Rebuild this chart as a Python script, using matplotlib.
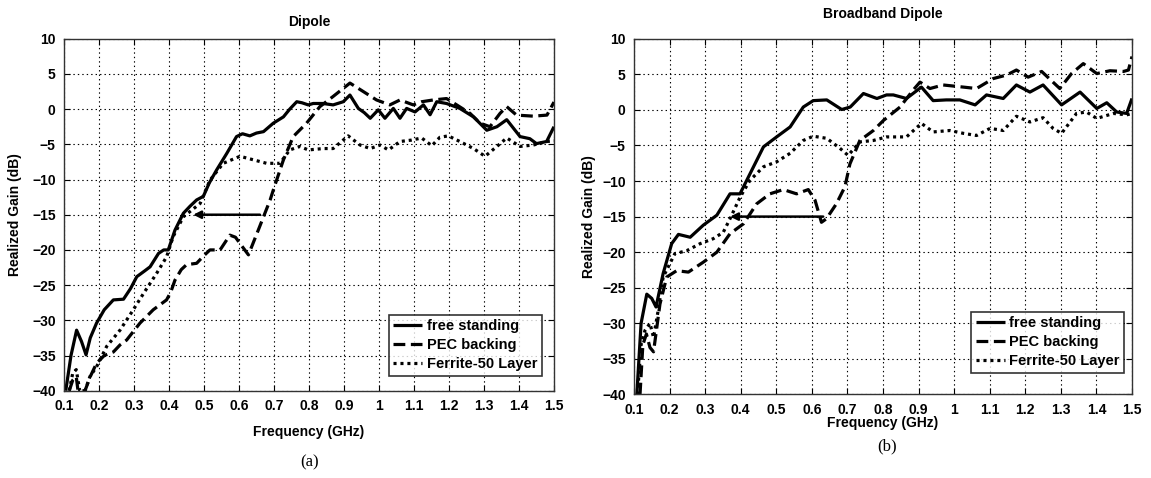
import numpy as np
import matplotlib
matplotlib.use("Agg")
import matplotlib.pyplot as plt

plt.rcParams['font.family'] = ['Liberation Sans', 'DejaVu Sans']
plt.rcParams['font.weight'] = 'bold'
plt.rcParams['lines.scale_dashes'] = False

# (a) Dipole  -- frequency (GHz), realized gain (dB)
fs_a = [(0.105, -40), (0.12, -35), (0.136, -31.4), (0.15, -33), (0.163, -34.9), (0.175, -32.5),
        (0.193, -30.4), (0.215, -28.5), (0.241, -27.1), (0.27, -27.0), (0.29, -25.5), (0.308, -23.8),
        (0.33, -23), (0.346, -22.4), (0.37, -20.5), (0.385, -20), (0.398, -20.0), (0.417, -17.2),
        (0.441, -14.8), (0.46, -13.8), (0.479, -12.9), (0.498, -12.4), (0.515, -10.5), (0.536, -8.65),
        (0.565, -6.3), (0.593, -3.9), (0.61, -3.5), (0.631, -3.8), (0.65, -3.4), (0.67, -3.2),
        (0.698, -2.0), (0.727, -1.1), (0.745, 0), (0.765, 1.05), (0.78, 0.9), (0.798, 0.6),
        (0.812, 0.8), (0.84, 0.8), (0.869, 0.6), (0.898, 1.05), (0.917, 2.0), (0.941, 0.1),
        (0.958, -0.5), (0.975, -1.3), (0.998, -0.1), (1.017, -1.3), (1.041, 0.1), (1.06, -1.3),
        (1.079, 0.1), (1.103, -0.4), (1.127, 0.6), (1.146, -0.8), (1.165, 1.05), (1.193, 0.8),
        (1.231, 0.1), (1.27, -1.1), (1.308, -3.0), (1.337, -2.5), (1.365, -1.5), (1.403, -3.9),
        (1.431, -4.2), (1.45, -4.9), (1.479, -4.6), (1.5, -2.5)]
pec_a = [(0.115, -40), (0.125, -38.5), (0.135, -38), (0.14, -40), (0.16, -40), (0.175, -38),
         (0.193, -36.1), (0.215, -35), (0.241, -34.5), (0.26, -33.5), (0.279, -32.8), (0.317, -30.4),
         (0.355, -28.5), (0.393, -27.1), (0.405, -26), (0.417, -24.3), (0.435, -22.8), (0.45, -22.1),
         (0.479, -21.9), (0.5, -20.8), (0.517, -20.0), (0.546, -20.0), (0.574, -17.9), (0.59, -18.2),
         (0.603, -19.1), (0.627, -20.7), (0.655, -17.2), (0.689, -12.9), (0.698, -11.5), (0.727, -7.2),
         (0.755, -3.9), (0.793, -2.0), (0.831, 0.35), (0.869, 1.8), (0.917, 3.7), (0.955, 2.5),
         (0.993, 1.3), (1.031, 0.6), (1.06, 1.3), (1.098, 0.6), (1.122, 1.05), (1.155, 1.3),
         (1.193, 1.5), (1.222, 0.6), (1.26, -0.6), (1.289, -2.0), (1.317, -2.5), (1.346, -0.6),
         (1.365, 0.35), (1.393, -0.85), (1.441, -1.0), (1.48, -0.85), (1.5, 1.0)]
fer_a = [(0.115, -40), (0.125, -37.5), (0.135, -37), (0.145, -40), (0.16, -40), (0.174, -38),
         (0.193, -36.6), (0.222, -33.7), (0.26, -31.4), (0.298, -28.5), (0.327, -26.2), (0.365, -23.3),
         (0.393, -21.0), (0.412, -18.1), (0.441, -15.3), (0.489, -13.4), (0.517, -10.1), (0.555, -7.7),
         (0.603, -6.7), (0.641, -7.2), (0.679, -7.7), (0.717, -7.7), (0.745, -5.8), (0.774, -5.3),
         (0.798, -5.8), (0.841, -5.6), (0.869, -5.6), (0.912, -3.8), (0.946, -5.1), (0.975, -5.6),
         (1.003, -5.1), (1.027, -5.8), (1.06, -4.6), (1.093, -4.4), (1.122, -4.1), (1.151, -5.2),
         (1.174, -4.0), (1.198, -3.8), (1.231, -4.6), (1.27, -5.6), (1.303, -6.7), (1.337, -5.3),
         (1.365, -4.1), (1.403, -5.3), (1.441, -5.1), (1.48, -4.6), (1.5, -4.5)]

# (b) Broadband Dipole
fs_b = [(0.108, -40), (0.12, -30), (0.136, -25.9), (0.15, -26.5), (0.162, -27.7), (0.182, -23.0),
        (0.206, -18.8), (0.225, -17.5), (0.258, -17.9), (0.295, -16.2), (0.333, -14.8), (0.37, -11.8),
        (0.398, -11.8), (0.426, -9.0), (0.464, -5.2), (0.501, -3.8), (0.539, -2.4), (0.576, 0.4),
        (0.604, 1.3), (0.642, 1.4), (0.684, 0.05), (0.708, 0.4), (0.745, 2.3), (0.783, 1.6),
        (0.81, 2.1), (0.829, 2.1), (0.866, 1.6), (0.908, 3.2), (0.941, 1.3), (0.978, 1.4),
        (1.016, 1.4), (1.059, 0.7), (1.091, 2.1), (1.138, 1.6), (1.175, 3.5), (1.213, 2.5),
        (1.25, 3.5), (1.302, 0.7), (1.354, 2.5), (1.401, 0.2), (1.429, 1.0), (1.457, -0.3),
        (1.485, -0.5), (1.5, 1.6)]
pec_b = [(0.117, -40), (0.125, -33), (0.135, -31.5), (0.145, -33.4), (0.155, -34), (0.173, -27.3),
         (0.192, -23.5), (0.22, -22.6), (0.253, -22.8), (0.295, -21.4), (0.333, -20.0), (0.37, -17.4),
         (0.408, -16.0), (0.445, -13.2), (0.482, -11.8), (0.52, -11.2), (0.557, -11.8), (0.59, -11.2),
         (0.609, -12.7), (0.627, -15.8), (0.641, -15.3), (0.669, -13.2), (0.693, -10.8), (0.707, -7.6),
         (0.735, -4.3), (0.773, -2.9), (0.801, -1.5), (0.848, 0.4), (0.885, 2.8), (0.904, 3.9),
         (0.932, 3.0), (0.969, 3.5), (1.026, 3.2), (1.063, 3.0), (1.11, 4.4), (1.148, 4.9),
         (1.175, 5.6), (1.208, 4.6), (1.246, 5.4), (1.297, 3.0), (1.33, 5.1), (1.363, 6.5),
         (1.401, 5.1), (1.438, 5.5), (1.476, 5.4), (1.49, 5.6), (1.5, 7.5)]
fer_b = [(0.11, -40), (0.12, -33), (0.131, -31.0), (0.145, -30), (0.155, -32), (0.168, -28.2),
         (0.182, -23.5), (0.215, -20.2), (0.248, -19.8), (0.286, -18.8), (0.323, -18.1), (0.351, -17.2),
         (0.37, -15.3), (0.398, -12.3), (0.426, -9.9), (0.464, -8.0), (0.501, -7.3), (0.539, -6.1),
         (0.576, -4.3), (0.604, -3.7), (0.642, -4.0), (0.679, -5.4), (0.702, -6.4), (0.735, -4.5),
         (0.773, -4.3), (0.81, -3.8), (0.829, -3.8), (0.866, -3.8), (0.908, -1.9), (0.941, -3.1),
         (0.988, -2.9), (1.026, -3.3), (1.063, -3.6), (1.101, -2.6), (1.138, -2.9), (1.175, -0.9),
         (1.213, -1.7), (1.25, -1.1), (1.278, -2.6), (1.302, -3.3), (1.344, -0.5), (1.372, -0.3),
         (1.401, -1.2), (1.448, -0.5), (1.485, -0.7), (1.5, -0.5)]

# arrows (start freq, end freq, level)
arrow_a = (0.66, 0.469, -15)
arrow_b = (0.632, 0.37, -15)

labels = ['free standing', 'PEC backing', 'Ferrite-50 Layer']
xticks = [0.1, 0.2, 0.3, 0.4, 0.5, 0.6, 0.7, 0.8, 0.9, 1.0, 1.1, 1.2, 1.3, 1.4, 1.5]
xticklabels = ['0.1', '0.2', '0.3', '0.4', '0.5', '0.6', '0.7', '0.8', '0.9', '1',
               '1.1', '1.2', '1.3', '1.4', '1.5']
yticks = [-40, -35, -30, -25, -20, -15, -10, -5, 0, 5, 10]

fig = plt.figure(figsize=(11.51, 4.78), dpi=100)
ax1 = fig.add_axes([0.0556, 0.1826, 0.4257, 0.7364])
ax2 = fig.add_axes([0.5508, 0.1747, 0.4327, 0.7443])


def draw(ax, series, arrow, title, tpad, xlab_y, ylab_x, leg_anchor):
    styles = [dict(ls='-'), dict(ls=(0, (8.5, 4))), dict(ls=(0, (2.2, 2.8)))]
    for s, st, lab in zip(series, styles, labels):
        d = np.array(s)
        ax.plot(d[:, 0], d[:, 1], color='k', lw=2.3, label=lab,
                solid_capstyle='butt', dash_capstyle='butt', **st)
    ax.annotate('', xy=(arrow[1], arrow[2]), xytext=(arrow[0], arrow[2]),
                arrowprops=dict(arrowstyle='-|>', color='k', lw=1.8, mutation_scale=11,
                                shrinkA=0, shrinkB=0))
    ax.set_xlim(0.1, 1.5)
    ax.set_ylim(-40, 10)
    ax.set_xticks(xticks)
    ax.set_xticklabels(xticklabels)
    ax.set_yticks(yticks)
    ax.grid(True, color='k', ls=(0, (1, 2.2)), lw=0.8)
    ax.tick_params(direction='in', length=4, width=0.8, top=True, right=True,
                   labelsize=10, pad=6)
    for sp in ax.spines.values():
        sp.set_color('#333333')
        sp.set_linewidth(1.0)
    ax.set_title(title, fontsize=10, fontweight='bold', pad=tpad)
    ax.set_xlabel('Frequency (GHz)', fontsize=10, fontweight='bold')
    ax.set_ylabel('Realized Gain (dB)', fontsize=10, fontweight='bold')
    ax.xaxis.set_label_coords(0.5, xlab_y)
    ax.yaxis.set_label_coords(ylab_x, 0.5)
    leg = ax.legend(loc='lower right', bbox_to_anchor=leg_anchor, borderaxespad=0,
                    fontsize=10.5, frameon=True, fancybox=False, handlelength=2.0,
                    handletextpad=0.3, labelspacing=0.35, borderpad=0.3)
    leg.get_frame().set_edgecolor('k')
    leg.get_frame().set_linewidth(1.2)
    for t in leg.get_texts():
        t.set_fontweight('bold')


draw(ax1, [fs_a, pec_a, fer_a], arrow_a, 'Dipole', 9, -0.097, -0.086, (0.975, 0.043))
draw(ax2, [fs_b, pec_b, fer_b], arrow_b, 'Broadband Dipole', 15, -0.06, -0.076, (0.984, 0.061))

fig.text(310 / 1151, 1 - 462 / 478, '(a)', ha='center', va='center',
         fontsize=12, fontweight='normal', family='Liberation Serif')
fig.text(887 / 1151, 1 - 446 / 478, '(b)', ha='center', va='center',
         fontsize=12, fontweight='normal', family='Liberation Serif')

fig.savefig('out.png', dpi=100)
